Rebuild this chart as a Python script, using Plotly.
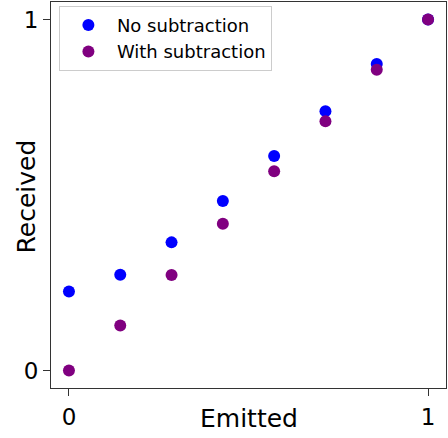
import plotly.graph_objects as go

emitted = [0, 1/7, 2/7, 3/7, 4/7, 5/7, 6/7, 1]
no_sub = [0.225, 0.273, 0.365, 0.483, 0.611, 0.739, 0.873, 1.0]
with_sub = [0.0, 0.128, 0.272, 0.418, 0.568, 0.710, 0.857, 1.0]
x_ticks = [0, 1]
y_ticks = [0, 1]

FONT = "DejaVu Sans"

fig = go.Figure()
fig.add_trace(go.Scatter(x=emitted, y=no_sub, mode="markers", name="No subtraction",
                         marker=dict(color="blue", size=12),
                         error_y=dict(type="data", array=[0]*len(no_sub), color="blue", thickness=1.5, width=0)))
fig.add_trace(go.Scatter(x=emitted, y=with_sub, mode="markers", name="With subtraction",
                         marker=dict(color="purple", size=12),
                         error_y=dict(type="data", array=[0]*len(with_sub), color="purple", thickness=1.5, width=0)))

axis_common = dict(showgrid=False, zeroline=False, showline=True, mirror=True,
                   linecolor="#333", linewidth=1.2, ticks="outside", ticklen=7,
                   tickcolor="#333", tickwidth=1.2,
                   tickfont=dict(family=FONT, size=23, color="black"))
fig.update_xaxes(range=[-0.05, 1.05], tickvals=x_ticks, ticktext=["0", "1"],
                 ticklabelstandoff=1, **axis_common)
fig.update_yaxes(range=[-0.05, 1.05], tickvals=y_ticks, ticktext=["0", "1"],
                 **axis_common)

fig.add_annotation(text="Emitted", xref="paper", yref="paper", x=0.5, y=-0.08,
                   xanchor="center", yanchor="middle", showarrow=False,
                   font=dict(family=FONT, size=25, color="black"))
fig.add_annotation(text="Received", xref="paper", yref="paper", x=-0.061, y=0.496,
                   xanchor="center", yanchor="middle", showarrow=False, textangle=-90,
                   font=dict(family=FONT, size=25, color="black"))

fig.update_layout(
    width=448, height=438,
    margin=dict(l=51, r=2, t=2, b=50, autoexpand=False),
    paper_bgcolor="white", plot_bgcolor="white",
    font=dict(family=FONT, color="black"),
    legend=dict(x=0.02, y=0.99, xanchor="left", yanchor="top",
                bgcolor="white", bordercolor="#cccccc", borderwidth=1,
                font=dict(family=FONT, size=18, color="black"),
                itemwidth=47),
    showlegend=True,
)

fig.write_html("out.html", config={"displayModeBar": False},
               post_script="document.body.style.margin='0';document.body.style.overflow='hidden';")
